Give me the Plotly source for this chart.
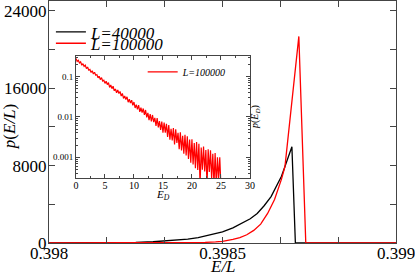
import plotly.graph_objects as go

# ---- main panel data: p(E/L) histograms ----
x_L40000 = [0.39800, 0.39805, 0.39810, 0.39815, 0.39820, 0.39825, 0.39830, 0.39835,
            0.39840, 0.39843, 0.39846, 0.39850, 0.39853, 0.39856, 0.39858, 0.39860,
            0.39862, 0.39864, 0.39865, 0.39866, 0.39867, 0.39868, 0.39869, 0.39870,
            0.39871, 0.39900]
p_L40000 = [0, 3, 10, 20, 40, 70, 130, 230,
            400, 560, 800, 1140, 1560, 2100, 2500, 3050,
            3850, 4800, 5450, 6150, 6900, 7900, 8900, 9950,
            0, 0]

x_L100000 = [0.39800, 0.39830, 0.39835, 0.39840, 0.39845, 0.39848, 0.39850, 0.39853,
             0.39855, 0.39857, 0.39859, 0.39861, 0.39863, 0.39865, 0.39866, 0.39867,
             0.39868, 0.39869, 0.39872, 0.39874, 0.39900]
p_L100000 = [0, 2, 5, 20, 60, 110, 170, 380,
             560, 850, 1300, 1950, 3050, 4500, 5500, 6600,
             7900, 11200, 21340, 0, 0]

main_xtick_vals = [0.398, 0.3985, 0.399]
main_xtick_text = ["0.398", "0.3985", "0.399"]

# ---- inset data: p(E_D) for L=100000 ----
E_D = [round(0.2 * i, 1) for i in range(126)]
p_ED = [
    0.285, 0.240, 0.255, 0.219, 0.234,
    0.193, 0.211, 0.180, 0.193, 0.159,
    0.174, 0.145, 0.151, 0.127, 0.140,
    0.117, 0.129, 0.109, 0.113, 0.0939,
    0.1026, 0.0847, 0.0952, 0.0781, 0.0819,
    0.0682, 0.0774, 0.0635, 0.0711, 0.0542,
    0.0625, 0.0506, 0.0579, 0.0447, 0.0494,
    0.0399, 0.0467, 0.0384, 0.0429, 0.0331,
    0.0383, 0.0289, 0.0333, 0.0270, 0.0317,
    0.0232, 0.0276, 0.0221, 0.0260, 0.0194,
    0.0235, 0.0167, 0.0202, 0.0154, 0.0196,
    0.0134, 0.0171, 0.0128, 0.0162, 0.0112,
    0.0149, 0.00973, 0.01265, 0.00836, 0.0117,
    0.00772, 0.0112, 0.00748, 0.00952, 0.00597,
    0.00932, 0.00553, 0.00788, 0.00474, 0.00770,
    0.00405, 0.00721, 0.00406, 0.00675, 0.00320,
    0.00631, 0.00273, 0.00510, 0.00261, 0.00531,
    0.00208, 0.00494, 0.00227, 0.00403, 0.00158,
    0.00414, 0.00148, 0.00339, 0.00122, 0.00359,
    0.00110, 0.00333, 0.00090, 0.00274, 0.00073,
    0.00279, 0.00066, 0.00224, 0.00053, 0.00239,
    0.00048, 0.00217, 0.0002, 0.00175, 0.000488,
    0.00185, 0.00044, 0.00150, 0.0002, 0.00158,
    0.00043, 0.00149, 0.00029, 0.00122, 0.0002,
    0.00127, 0.0002, 0.00100, 0.00028, 0.00099,
    0.0002,
]
inset_ytick_vals = [0.001, 0.01, 0.1]
inset_ytick_text = ["0.001", "0.01", "0.1"]

SERIF = "Liberation Serif, Times New Roman, serif"
FRAME = "#444444"

fig = go.Figure()
fig.add_trace(go.Scatter(x=x_L40000, y=p_L40000, mode="lines",
                         line=dict(color="black", width=1.3),
                         name="<i>L=40000</i>", xaxis="x", yaxis="y", legend="legend"))
fig.add_trace(go.Scatter(x=x_L100000, y=p_L100000, mode="lines",
                         line=dict(color="#ff0000", width=1.3),
                         name="<i>L=100000</i>", xaxis="x", yaxis="y", legend="legend3"))
fig.add_trace(go.Scatter(x=E_D, y=p_ED, mode="lines",
                         line=dict(color="#ff0000", width=1.2),
                         name="<i>L=100000</i>", xaxis="x2", yaxis="y2", legend="legend2"))

legend_common = dict(xanchor="left", yanchor="top", bgcolor="rgba(0,0,0,0)", borderwidth=0)

fig.update_layout(
    width=415, height=275,
    margin=dict(l=49, r=19, t=1, b=32),
    paper_bgcolor="white", plot_bgcolor="white",
    font=dict(family=SERIF, color="black", size=17),
    showlegend=True,
    xaxis=dict(domain=[0, 1], range=[0.398, 0.399], anchor="y",
               tickmode="array", tickvals=main_xtick_vals, ticktext=main_xtick_text,
               ticks="inside", ticklen=6, tickcolor=FRAME, ticklabelstandoff=-5,
               ticklabeloverflow="allow",
               minor=dict(ticks="inside", tickmode="linear", tick0=0.398, dtick=0.0005 / 3,
                          ticklen=6, tickcolor=FRAME),
               showline=True, linecolor=FRAME, linewidth=1, mirror="allticks",
               showgrid=False, zeroline=False, tickfont=dict(size=17)),
    yaxis=dict(domain=[0, 1], range=[0, 25000], anchor="x",
               tickmode="linear", tick0=0, dtick=8000, tickformat="d",
               ticks="inside", ticklen=6, tickcolor=FRAME, ticklabelstandoff=-2,
               ticklabeloverflow="allow",
               minor=dict(ticks="inside", tickmode="linear", tick0=0, dtick=4000,
                          ticklen=6, tickcolor=FRAME),
               showline=True, linecolor=FRAME, linewidth=1, mirror="allticks",
               showgrid=False, zeroline=False, tickfont=dict(size=17)),
    xaxis2=dict(domain=[0.0778, 0.579], range=[0, 30], anchor="y2",
                tickmode="linear", tick0=0, dtick=5,
                ticks="inside", ticklen=4, tickcolor=FRAME, ticklabelstandoff=-2,
                minor=dict(ticks="inside", tickmode="linear", tick0=0, dtick=2.5,
                           ticklen=2, tickcolor=FRAME),
                showline=True, linecolor=FRAME, linewidth=1, mirror="allticks",
                showgrid=False, zeroline=False, tickfont=dict(size=10)),
    yaxis2=dict(domain=[0.268, 0.772], type="log", range=[-3.52, -0.49], anchor="x2",
                tickvals=inset_ytick_vals, ticktext=inset_ytick_text,
                ticks="inside", ticklen=4, tickcolor=FRAME,
                minor=dict(ticks="inside", dtick="D1", ticklen=2, tickcolor=FRAME),
                showline=True, linecolor=FRAME, linewidth=1, mirror="allticks",
                showgrid=False, zeroline=False, tickfont=dict(size=9)),
    legend=dict(x=0.0055, y=0.945, font=dict(size=17), **legend_common),
    legend3=dict(x=0.0055, y=0.898, font=dict(size=17), **legend_common),
    legend2=dict(x=0.270, y=0.767, font=dict(size=10), **legend_common),
    annotations=[
        dict(text="<i>p</i>(<i>E/L</i>)", xref="paper", yref="paper",
             x=-0.115, y=0.479, xanchor="center", yanchor="middle",
             textangle=-90, showarrow=False, font=dict(size=17)),
        dict(text="<i>E/L</i>", xref="paper", yref="paper",
             x=0.5, y=-0.099, xanchor="center", yanchor="middle",
             showarrow=False, font=dict(size=17)),
        dict(text="<i>E</i><sub><i>D</i></sub>", xref="paper", yref="paper",
             x=0.3285, y=0.198, xanchor="center", yanchor="middle",
             showarrow=False, font=dict(size=11)),
        dict(text="<i>p</i>(<i>E</i><sub><i>D</i></sub>)", xref="paper", yref="paper",
             x=0.597, y=0.521, xanchor="center", yanchor="middle",
             textangle=-90, showarrow=False, font=dict(size=10)),
    ],
)

fig.write_html("out.html", config={"displayModeBar": False},
               post_script="document.body.style.margin='0';document.body.style.overflow='hidden';")
